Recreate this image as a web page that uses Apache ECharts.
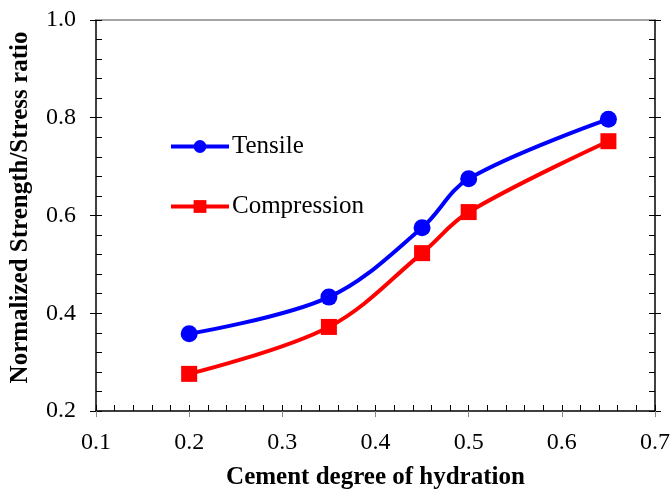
<!DOCTYPE html>
<html>
<head>
<meta charset="utf-8">
<script src="https://cdn.jsdelivr.net/npm/echarts@6/dist/echarts.min.js"></script>
<style>
  html, body { margin: 0; padding: 0; background: #fff; }
  #chart { width: 672px; height: 492px; }
</style>
</head>
<body>
<div id="chart"></div>
<script>
// Degree of hydration of the cement (x) against normalized strength/stress ratio (y)
const hydration = [0.2, 0.35, 0.45, 0.5, 0.65];
const tensile = [0.358, 0.433, 0.575, 0.675, 0.797];
const compression = [0.276, 0.372, 0.523, 0.607, 0.752];
const seriesNames = ['Tensile', 'Compression'];
const xTitle = 'Cement degree of hydration';
const yTitle = 'Normalized Strength/Stress ratio';

const FONT = '"Liberation Serif", "Times New Roman", serif';
const pairs = (xs, ys) => xs.map((x, i) => [x, ys[i]]);

const chart = echarts.init(document.getElementById('chart'), null, { renderer: 'canvas' });

const baseX = { type: 'value', min: 0.1, max: 0.7, interval: 0.1, splitLine: { show: false } };
const baseY = { type: 'value', min: 0.2, max: 1.0, interval: 0.2, splitLine: { show: false } };

chart.setOption({
  animation: false,
  grid: { left: 96, right: 17, top: 20, bottom: 81, containLabel: false, outerBoundsMode: 'none' },
  xAxis: [
    Object.assign({}, baseX, {
      position: 'bottom',
      name: xTitle, nameLocation: 'middle', nameGap: 54,
      nameTextStyle: { fontFamily: FONT, fontSize: 25, fontWeight: 'bold', color: '#000' },
      axisLine: { show: true, lineStyle: { color: '#000', width: 1.5 } },
      axisTick: { show: true, inside: true, length: 6, lineStyle: { color: '#000' } },
      minorTick: { show: true, splitNumber: 5, length: 6, lineStyle: { color: '#000' } },
      axisLabel: { fontFamily: FONT, fontSize: 24, color: '#000', margin: 20,
        formatter: v => (Math.round(v * 10) / 10).toString() }
    }),
    Object.assign({}, baseX, {
      position: 'bottom',
      axisLine: { show: false },
      axisTick: { show: true, inside: false, length: 6, lineStyle: { color: '#888' } },
      axisLabel: { show: false }
    }),
    Object.assign({}, baseX, {
      position: 'top',
      axisLine: { show: true, lineStyle: { color: '#888', width: 1.5 } },
      axisTick: { show: false },
      axisLabel: { show: false }
    })
  ],
  yAxis: [
    Object.assign({}, baseY, {
      position: 'left',
      name: yTitle, nameLocation: 'middle', nameGap: 63, nameRotate: 90,
      nameTextStyle: { fontFamily: FONT, fontSize: 25, fontWeight: 'bold', color: '#000',
        padding: [0, 0, 0, 16] },
      axisLine: { show: true, lineStyle: { color: '#000', width: 1.5 } },
      axisTick: { show: true, inside: true, length: 6, lineStyle: { color: '#000' } },
      minorTick: { show: true, splitNumber: 5, length: 6, lineStyle: { color: '#000' } },
      axisLabel: { fontFamily: FONT, fontSize: 24, color: '#000', margin: 20,
        formatter: v => v.toFixed(1) }
    }),
    Object.assign({}, baseY, {
      position: 'left',
      axisLine: { show: false },
      axisTick: { show: true, inside: false, length: 6, lineStyle: { color: '#000' } },
      axisLabel: { show: false }
    }),
    Object.assign({}, baseY, {
      position: 'right',
      axisLine: { show: true, lineStyle: { color: '#000', width: 1.5 } },
      axisTick: { show: true, inside: true, length: 6, lineStyle: { color: '#000' } },
      minorTick: { show: true, splitNumber: 5, length: 6, lineStyle: { color: '#000' } },
      axisLabel: { show: false }
    }),
    Object.assign({}, baseY, {
      position: 'right',
      axisLine: { show: false },
      axisTick: { show: true, inside: false, length: 6, lineStyle: { color: '#000' } },
      axisLabel: { show: false }
    })
  ],
  legend: {
    orient: 'vertical',
    left: 169, top: 134, padding: 0,
    itemWidth: 58, itemHeight: 16, itemGap: 35,
    lineStyle: { width: 4 },
    textStyle: { fontFamily: FONT, fontSize: 25, color: '#000', padding: [0, 0, 0, -2] },
    data: seriesNames
  },
  series: [
    {
      name: seriesNames[0], type: 'line', smooth: 0.35,
      data: pairs(hydration, tensile),
      symbol: 'circle', symbolSize: 17,
      lineStyle: { color: '#0000ff', width: 4 },
      itemStyle: { color: '#0000ff' }
    },
    {
      name: seriesNames[1], type: 'line', smooth: 0.35,
      data: pairs(hydration, compression),
      symbol: 'rect', symbolSize: 16,
      lineStyle: { color: '#ff0000', width: 4 },
      itemStyle: { color: '#ff0000' }
    }
  ]
});
</script>
</body>
</html>
